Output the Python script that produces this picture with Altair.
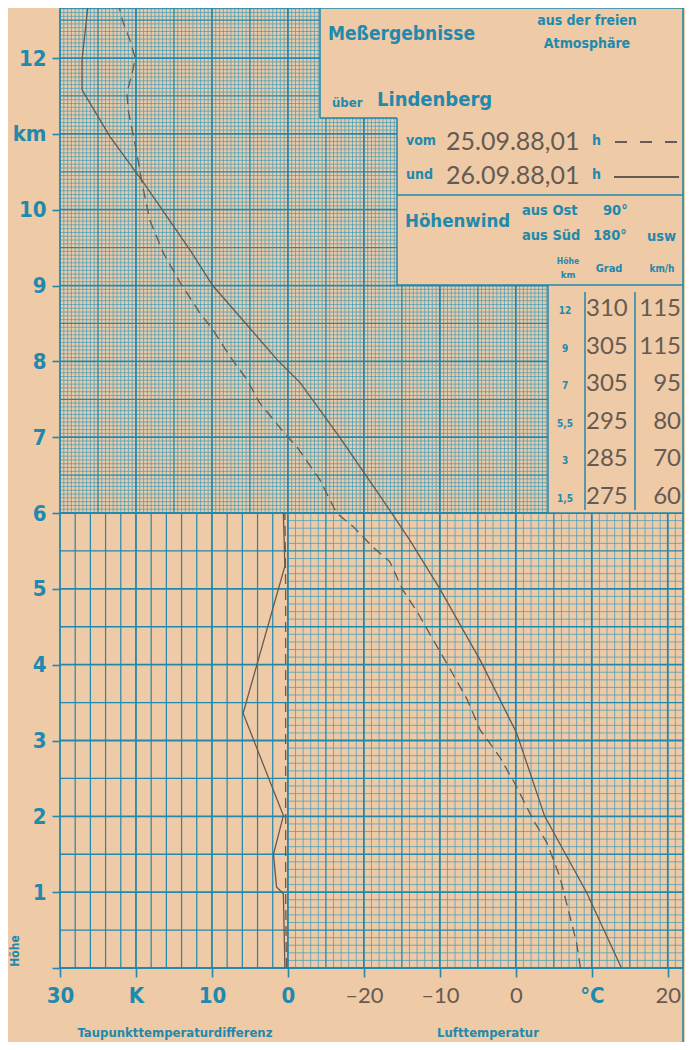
import altair as alt
import pandas as pd
import numpy as np

# ---------------- data ----------------
# Lufttemperatur, 26.09.88 01 h (solid)
t26_km = [0, 1.0, 2.0, 3.1, 4.06, 5.0, 5.65, 6.17, 7.0, 7.72, 8.02, 9.0, 9.47, 10.37, 10.96, 11.58, 11.98, 12.7]
t26_c = [13.9, 9.3, 3.8, 0.1, -4.7, -10.0, -14.0, -17.5, -23.2, -28.4, -31.4, -39.9, -42.9, -49.1, -53.4, -57.1, -57.1, -56.3]
# Lufttemperatur, 25.09.88 01 h (dashed)
t25_km = [0, 0.33, 1.2, 1.65, 1.95, 2.39, 2.78, 3.14, 3.54, 4.02, 4.33, 4.7, 4.99, 5.36, 5.55, 5.82, 6.0,
          6.44, 6.87, 7.07, 7.45, 7.76, 8.06, 8.42, 8.64, 9.04, 9.43, 9.87, 10.3, 10.75, 11.0, 11.3, 11.54,
          11.8, 12.0, 12.24, 12.47, 12.7]
t25_c = [8.5, 8.0, 5.8, 4.1, 2.3, 0.1, -2.1, -4.7, -6.4, -9.1, -10.9, -13.0, -14.9, -16.6, -18.8, -21.4, -23.6,
         -25.8, -28.8, -30.6, -33.7, -35.4, -37.6, -39.9, -41.6, -44.2, -46.4, -48.2, -49.1, -49.9, -50.4, -51.0, -51.2,
         -50.5, -50.1, -50.8, -51.7, -52.3]
# Taupunkttemperaturdifferenz (K)
d26_km = [0, 0.5, 0.98, 1.07, 1.5, 2.01, 3.36, 5.3, 6.0]
d26_k = [0.4, 0.5, 0.6, 1.5, 1.9, 0.6, 5.9, 0.4, 0.6]
d25_km = [0, 1, 2, 3, 4, 5, 6]
d25_k = [0.2, 0.3, 0.3, 0.3, 0.3, 0.3, 0.4]
# Höhenwind table
wind_km = ["12", "9", "7", "5,5", "3", "1,5"]
wind_deg = ["310", "305", "305", "295", "285", "275"]
wind_kmh = ["115", "115", "95", "80", "70", "60"]
# axis ticks
y_ticks = list(range(0, 13))
x_ticks = [0, 10, 20, 30, 40, 50, 60, 70, 80]
x_tick_labels = ["30", "K", "10", "0", "–20", "–10", "0", "°C", "20"]

# ---------------- layout / style ----------------
W, H = 623, 960
U_MAX, H_MAX = 82, 12.66
PXU = W / U_MAX
PXH = H / H_MAX
BG = "#eecaa6"
TEAL = "#2189ad"
GRID = "#3f9dbc"
INK = "#665a52"
F_T = "Liberation Sans Narrow, DejaVu Sans Condensed, Roboto Condensed, Roboto, sans-serif"
F_I = "Lato, Open Sans, sans-serif"

xs = alt.Scale(domain=[0, U_MAX], nice=False, zero=False)
ys = alt.Scale(domain=[0, H_MAX], nice=False, zero=False)

label_map = "{" + ",".join(f"'{v}':'{l}'" for v, l in zip(x_ticks, x_tick_labels)) + "}"
teal_test = "datum.value <= 30 || datum.value == 70"
AXX = alt.Axis(
    values=x_ticks, labelExpr=f"{label_map}[datum.value + '']", domain=False, grid=False, title=None,
    tickSize=9, tickWidth=1.6, tickColor=TEAL, labelPadding=8, labelFontSize=22,
    labelColor={"condition": {"test": teal_test, "value": TEAL}, "value": INK},
    labelFont={"condition": {"test": teal_test, "value": F_T}, "value": F_I},
    labelFontWeight={"condition": {"test": teal_test, "value": "bold"}, "value": "normal"},
    labelFlush=False, labelOverlap=False)
AXY = alt.Axis(
    values=y_ticks, labelExpr="datum.value == 0 ? '' : (datum.value == 11 ? 'km' : datum.value)",
    domain=False, grid=False, title=None, tickSize=8, tickWidth=1.6, tickColor=TEAL, labelPadding=6,
    labelFontSize=22, labelColor=TEAL, labelFont=F_T, labelFontWeight="bold",
    labelFlush=False, labelOverlap=False)


def X(f):
    return alt.X(f, type="quantitative", scale=xs, axis=AXX, title=None)


def Y(f):
    return alt.Y(f, type="quantitative", scale=ys, axis=AXY, title=None)


def pu(px):  # page x -> paper unit
    return (px - 60) / PXU


def ph(py):  # page y -> km
    return (968 - py) / PXH


# paper coordinates: u = T + 60 (°C), u = 30 - D (K)
t26 = pd.DataFrame({"h": t26_km, "u": [t + 60 for t in t26_c]})
t25 = pd.DataFrame({"h": t25_km, "u": [t + 60 for t in t25_c]})
d26 = pd.DataFrame({"h": d26_km, "u": [30 - d for d in d26_k]})
d25 = pd.DataFrame({"h": d25_km, "u": [30 - d for d in d25_k]})

# ---- paper grid ----
vf, vm, vM, vc = [], [], [], []
for j in range(0, 2 * U_MAX + 1):          # half-unit steps
    u = j / 2
    if j % 20 == 0:
        vM.append((u, 0, H_MAX))
    elif j % 10 == 0:
        vm.append((u, 6 if u < 30 else 0, H_MAX))
    else:
        vf.append((u, 6, H_MAX))           # upper area: half-unit mesh
        if j % 2 == 0 and u > 30:
            vf.append((u, 0, 6))           # lower-right: unit mesh
    if u < 30 and j % 4 == 0 and j % 20 != 0:
        vc.append((u, 0, 6))               # lower-left: 2 K spacing
hf, hm, hM = [], [], []
for k in range(0, int(H_MAX * 20) + 1):    # 0.05 km steps
    h = k / 20
    if k % 20 == 0:
        hM.append((h, 0, U_MAX))
    elif k % 10 == 0:
        hm.append((h, 0, U_MAX))
    elif h > 6:
        hf.append((h, 0, U_MAX))
    elif k % 2 == 0:
        hf.append((h, 30, U_MAX))


def vrules(rows, width, color, op=1.0):
    df = pd.DataFrame(rows, columns=["u", "y1", "y2"])
    return alt.Chart(df).mark_rule(strokeWidth=width, color=color, opacity=op).encode(
        x=X("u"), y=Y("y1"), y2="y2")


def hrules(rows, width, color, op=1.0):
    df = pd.DataFrame(rows, columns=["h", "x1", "x2"])
    return alt.Chart(df).mark_rule(strokeWidth=width, color=color, opacity=op).encode(
        y=Y("h"), x=X("x1"), x2="x2")


grid = [
    vrules(vf, 0.8, GRID, 0.9), hrules(hf, 0.8, GRID, 0.9),
    vrules(vc, 1.2, TEAL), vrules(vm, 1.3, TEAL), hrules(hm, 1.3, TEAL),
    vrules(vM, 1.8, TEAL), hrules(hM, 1.8, TEAL),
]

# beige boxes
boxes_df = pd.DataFrame({
    "x1": [pu(320), pu(397), pu(548)], "x2": [U_MAX, U_MAX, U_MAX],
    "y1": [ph(118), ph(285), 6.0], "y2": [H_MAX, ph(118), ph(285)]})
boxes = alt.Chart(boxes_df).mark_rect(color=BG, opacity=1).encode(
    x=X("x1"), x2="x2", y=Y("y1"), y2="y2")

bv = [(pu(320), ph(118), H_MAX), (pu(397), ph(285), ph(118)), (pu(548), 6.0, ph(285)),
      (pu(585), ph(510), ph(292)), (pu(635), ph(510), ph(292))]
bh = [(ph(118), pu(320), pu(397)), (ph(195), pu(397), U_MAX), (ph(285), pu(397), U_MAX),
      (6.0, pu(548), U_MAX), (H_MAX, 0, U_MAX)]
borders = [vrules(bv, 1.5, TEAL), hrules(bh, 1.5, TEAL)]

one = pd.DataFrame({"a": [0]})
edge = alt.Chart(one).mark_rule(color=TEAL, strokeWidth=1.6).encode(
    x=alt.value(W), y=alt.value(0), y2=alt.value(H + 74))

# data lines
lines = [
    alt.Chart(t26).mark_line(color=INK, strokeWidth=1.3, clip=True).encode(x=X("u"), y=Y("h"), order="h:Q"),
    alt.Chart(t25).mark_line(color=INK, strokeWidth=1.3, strokeDash=[10, 6], clip=True).encode(
        x=X("u"), y=Y("h"), order="h:Q"),
    alt.Chart(d26).mark_line(color=INK, strokeWidth=1.3).encode(x=X("u"), y=Y("h"), order="h:Q"),
    alt.Chart(d25).mark_line(color=INK, strokeWidth=1.3, strokeDash=[10, 6]).encode(
        x=X("u"), y=Y("h"), order="h:Q"),
]


def label(txt, px, py, size, color=TEAL, weight="bold", align="left", font=F_T, angle=0):
    return alt.Chart(one).mark_text(text=txt, align=align, baseline="middle", fontSize=size,
                                    fontWeight=weight, color=color, font=font, angle=angle).encode(
        x=alt.value(px - 60), y=alt.value(py - 8))


def seg(px1, px2, py, dash=None):
    kw = dict(color=INK, strokeWidth=1.8)
    if dash:
        kw["strokeDash"] = dash
    return alt.Chart(one).mark_rule(**kw).encode(
        x=alt.value(px1 - 60), x2=alt.value(px2 - 60), y=alt.value(py - 8))


texts = [
    label("Meßergebnisse", 328, 34, 19),
    label("aus der freien", 587, 21, 14, align="center"),
    label("Atmosphäre", 587, 44, 14, align="center"),
    label("über", 332, 103, 13),
    label("Lindenberg", 377, 100, 20),
    label("vom", 406, 141, 14),
    label("25.09.88,01", 446, 142, 25, color=INK, weight="normal", font=F_I),
    label("h", 592, 141, 14),
    seg(615, 679, 142, [12, 13]),
    label("und", 406, 175, 14),
    label("26.09.88,01", 446, 176, 25, color=INK, weight="normal", font=F_I),
    label("h", 592, 175, 14),
    seg(614, 679, 177),
    label("Höhenwind", 405, 221, 18.5),
    label("aus Ost", 522, 211, 14.5),
    label("90°", 603, 211, 14.5),
    label("aus Süd", 522, 236, 14.5),
    label("180°", 593, 236, 14.5),
    label("usw", 647, 237, 14.5),
    label("Höhe", 568, 261, 8.5, align="center"),
    label("km", 568, 275, 9.5, align="center"),
    label("Grad", 609, 269, 11, align="center"),
    label("km/h", 662, 269, 10, align="center"),
    label("Höhe", 15, 951, 12, angle=270, align="center"),
    label("Taupunkttemperaturdifferenz", 175, 1033, 13, align="center"),
    label("Lufttemperatur", 488, 1033, 13, align="center"),
]
for i, (hk, dg, sp) in enumerate(zip(wind_km, wind_deg, wind_kmh)):
    yy = 309 + i * 37.6
    texts.append(label(hk, 565, yy + 2, 10, align="center"))
    texts.append(label(dg, 586, yy, 24, color=INK, weight="normal", font=F_I))
    texts.append(label(sp, 681, yy, 24, color=INK, weight="normal", font=F_I, align="right"))

chart = alt.layer(*grid, boxes, *borders, edge, *lines, *texts).properties(
    width=W, height=H,
    autosize=alt.AutoSizeParams(type="none"),
    padding={"left": 52, "top": 0, "right": 2, "bottom": 74},
    background=BG,
).configure_view(stroke=None)

chart.save("out.html", embed_options={"renderer": "svg", "actions": False})
